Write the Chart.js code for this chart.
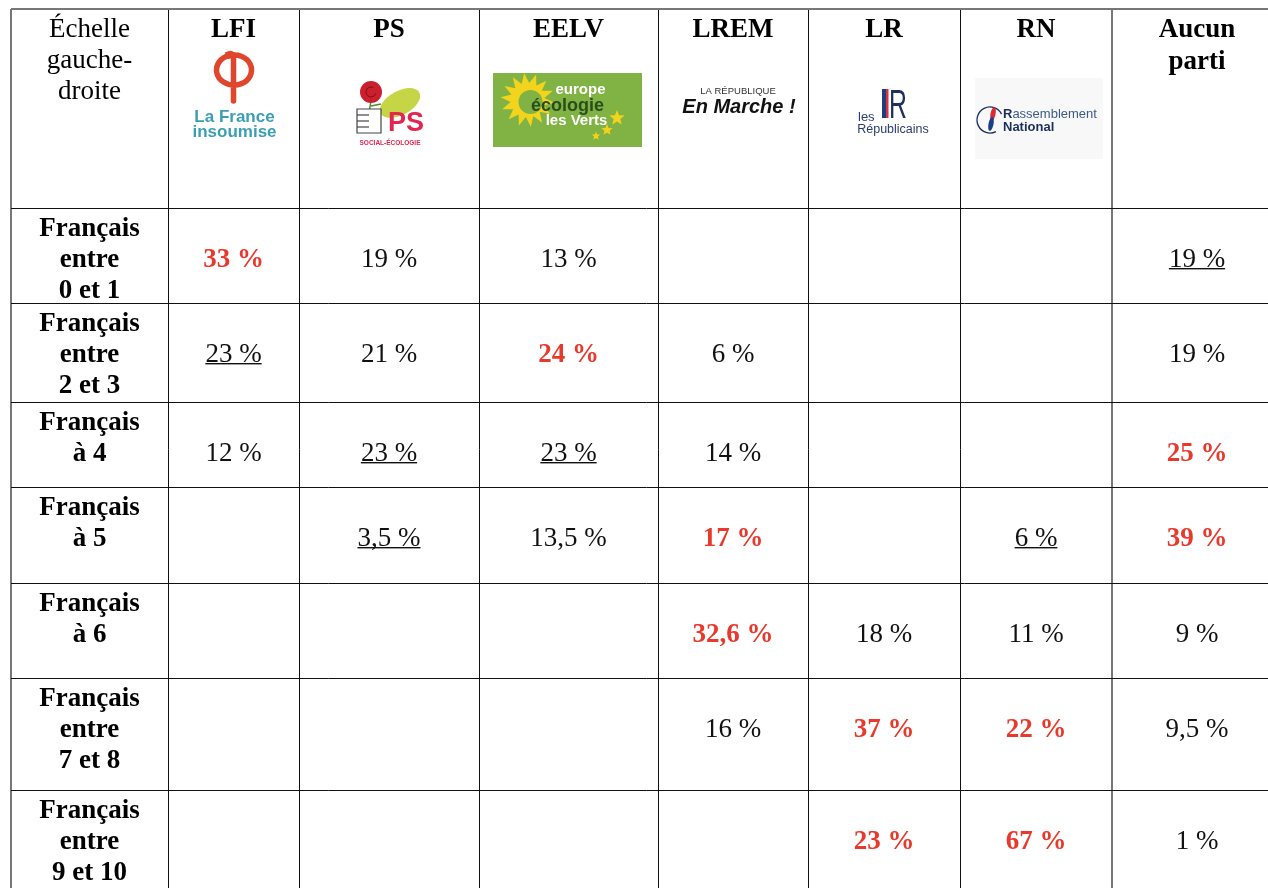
<!DOCTYPE html>
<html lang="fr">
<head>
<meta charset="utf-8">
<title>Échelle gauche-droite par parti</title>
<script src="https://cdn.jsdelivr.net/npm/chart.js@4.4.1/dist/chart.umd.min.js"></script>
<style>
  html, body { margin: 0; padding: 0; background: #fff; overflow: hidden; }
  canvas { display: block; }
</style>
</head>
<body>
<canvas id="table" width="1300" height="910"></canvas>
<script>
// --- données ---
const parties = ['LFI', 'PS', 'EELV', 'LREM', 'LR', 'RN', 'Aucun parti'];
const cornerLabel = ['Échelle', 'gauche-', 'droite'];
const rowLabels = [
    ['Français', 'entre', '0 et 1'],
    ['Français', 'entre', '2 et 3'],
    ['Français', 'à 4'],
    ['Français', 'à 5'],
    ['Français', 'à 6'],
    ['Français', 'entre', '7 et 8'],
    ['Français', 'entre', '9 et 10']
];

const lfi   = [33, 23, 12, null, null, null, null];
const ps    = [19, 21, 23, 3.5, null, null, null];
const eelv  = [13, 24, 23, 13.5, null, null, null];
const lrem  = [null, 6, 14, 17, 32.6, 16, null];
const lr    = [null, null, null, null, 18, 37, 23];
const rn    = [null, null, null, 6, 11, 22, 67];
const aucun = [19, 19, 25, 39, 9, 9.5, 1];

// r = rouge gras, u = souligné
const lfiMark   = ['r', 'u', '', '', '', '', ''];
const psMark    = ['', '', 'u', 'u', '', '', ''];
const eelvMark  = ['', 'r', 'u', '', '', '', ''];
const lremMark  = ['', '', '', 'r', 'r', '', ''];
const lrMark    = ['', '', '', '', '', 'r', 'r'];
const rnMark    = ['', '', '', 'u', '', 'r', 'r'];
const aucunMark = ['u', '', 'r', 'r', '', '', ''];

const series = [lfi, ps, eelv, lrem, lr, rn, aucun];
const marks = [lfiMark, psMark, eelvMark, lremMark, lrMark, rnMark, aucunMark];

// --- mise en page du tableau ---
const colWidths = [157, 131, 180, 179, 150, 152, 152, 170];
const rowHeights = [199, 95, 99, 85, 96, 95, 112, 100];
const cumul = arr => arr.reduce((acc, w) => { acc.push(acc[acc.length - 1] + w); return acc; }, [0]);
const xEdges = cumul(colWidths);
const yEdges = cumul(rowHeights);
const LINE = 31;       // interligne
const FIRST = 18;      // première ligne sous le bord de la cellule

const SERIF = '"Liberation Serif", "Times New Roman", serif';
const SANS = '"Liberation Sans", Arial, sans-serif';
const RED = '#e8392d';

const cells = [];
series.forEach((vals, c) => {
    vals.forEach((v, r) => {
        if (v === null) return;
        cells.push({
            x: (xEdges[c + 1] + xEdges[c + 2]) / 2,
            y: yEdges[r + 1] + FIRST + LINE,
            v,
            mark: marks[c][r]
        });
    });
});

const fmt = v => String(v).replace('.', ',') + ' %';

function textLine(ctx, txt, x, y, font, color, underline) {
    ctx.font = font;
    ctx.fillStyle = color;
    ctx.textAlign = 'center';
    ctx.textBaseline = 'alphabetic';
    ctx.fillText(txt, x, y + 9.5);
    if (underline) {
        const w = ctx.measureText(txt).width;
        ctx.fillRect(x - w / 2, y + 11, w, 1.4);
    }
}

function star(ctx, cx, cy, n, rOut, rIn, rot) {
    ctx.beginPath();
    for (let i = 0; i < n * 2; i++) {
        const r = i % 2 ? rIn : rOut;
        const a = rot + i * Math.PI / n;
        ctx.lineTo(cx + r * Math.cos(a), cy + r * Math.sin(a));
    }
    ctx.closePath();
    ctx.fill();
}

const logos = {
    LFI(ctx, cx, top) {
        ctx.strokeStyle = '#e0462c';
        ctx.lineWidth = 5.5;
        ctx.lineCap = 'round';
        // tige + crochet + demi-boucle gauche
        ctx.beginPath();
        ctx.moveTo(cx, top + 92);
        ctx.lineTo(cx, top + 50);
        ctx.quadraticCurveTo(cx, top + 43, cx - 5, top + 45);
        ctx.ellipse(cx, top + 61, 17, 15, 0, -0.58 * Math.PI, 0.5 * Math.PI, true);
        ctx.stroke();
        // demi-boucle droite
        ctx.beginPath();
        ctx.ellipse(cx + 1, top + 61, 17, 15, 0, -0.62 * Math.PI, 0.5 * Math.PI, false);
        ctx.stroke();
        ctx.textAlign = 'center';
        ctx.textBaseline = 'middle';
        ctx.fillStyle = '#3a9fb4';
        ctx.font = 'bold 17px ' + SANS;
        ctx.fillText('La France', cx + 1, top + 108);
        ctx.fillText('insoumise', cx + 1, top + 123);
    },
    PS(ctx, cx, top) {
        ctx.save();
        ctx.fillStyle = '#c6d545';
        ctx.beginPath();
        ctx.ellipse(cx + 11, top + 94, 22, 12, -0.5, 0, Math.PI * 2);
        ctx.fill();
        ctx.restore();
        ctx.strokeStyle = '#4f8a2e';
        ctx.lineWidth = 1.5;
        ctx.beginPath();
        ctx.moveTo(cx - 18, top + 92);
        ctx.lineTo(cx - 20, top + 104);
        ctx.moveTo(cx - 18, top + 97);
        ctx.lineTo(cx - 8, top + 95);
        ctx.stroke();
        ctx.fillStyle = '#cc1f2e';
        ctx.beginPath();
        ctx.arc(cx - 18, top + 83, 11, 0, Math.PI * 2);
        ctx.fill();
        ctx.strokeStyle = '#7a0f18';
        ctx.lineWidth = 1;
        ctx.beginPath();
        ctx.arc(cx - 18, top + 83, 5, 0.3, 5.2);
        ctx.stroke();
        ctx.fillStyle = '#fff';
        ctx.strokeStyle = '#444';
        ctx.lineWidth = 1.2;
        ctx.beginPath();
        ctx.rect(cx - 32, top + 100, 24, 24);
        ctx.fill();
        ctx.stroke();
        for (let i = 1; i < 4; i++) {
            ctx.beginPath();
            ctx.moveTo(cx - 32, top + 100 + i * 6);
            ctx.lineTo(cx - 20, top + 100 + i * 6);
            ctx.stroke();
        }
        ctx.textAlign = 'center';
        ctx.textBaseline = 'middle';
        ctx.fillStyle = '#e2264f';
        ctx.font = 'bold 27px ' + SANS;
        ctx.fillText('PS', cx + 17, top + 115);
        ctx.font = 'bold 6.5px ' + SANS;
        ctx.fillText('SOCIAL-ÉCOLOGIE', cx + 1, top + 134);
    },
    EELV(ctx, cx, top) {
        ctx.fillStyle = '#80b343';
        ctx.fillRect(cx - 75.5, top + 64, 149, 74);
        ctx.fillStyle = '#f3d41d';
        star(ctx, cx - 41, top + 91, 14, 27, 17, 0.1);
        ctx.fillStyle = '#80b343';
        ctx.beginPath();
        ctx.arc(cx - 38, top + 93, 12, 0, Math.PI * 2);
        ctx.fill();
        ctx.fillStyle = '#f3d41d';
        star(ctx, cx + 48.5, top + 109, 5, 8, 3.5, -Math.PI / 2);
        star(ctx, cx + 38.5, top + 121, 5, 6, 2.6, -Math.PI / 2);
        star(ctx, cx + 27.5, top + 127, 5, 4.5, 2, -Math.PI / 2);
        ctx.textAlign = 'center';
        ctx.textBaseline = 'middle';
        ctx.fillStyle = '#fff';
        ctx.font = 'bold 15px ' + SANS;
        ctx.fillText('europe', cx + 12, top + 81);
        ctx.fillStyle = '#2b4d1d';
        ctx.font = 'bold 18px ' + SANS;
        ctx.fillText('écologie', cx - 1, top + 97);
        ctx.fillStyle = '#fff';
        ctx.font = 'bold 15px ' + SANS;
        ctx.fillText('les Verts', cx + 8, top + 112);
    },
    LREM(ctx, cx, top) {
        ctx.textAlign = 'center';
        ctx.textBaseline = 'middle';
        ctx.fillStyle = '#333';
        ctx.font = '9.5px ' + SANS;
        ctx.fillText('LA RÉPUBLIQUE', cx + 5, top + 82);
        ctx.fillStyle = '#111';
        ctx.font = 'italic bold 20px ' + SANS;
        ctx.fillText('En Marche !', cx + 6, top + 98);
    },
    LR(ctx, cx, top) {
        ctx.fillStyle = '#1f3b82';
        ctx.fillRect(cx - 2, top + 80, 4, 29);
        ctx.fillStyle = '#d8323c';
        ctx.fillRect(cx + 2, top + 80, 2.5, 29);
        ctx.save();
        ctx.translate(cx + 5, top + 109);
        ctx.scale(0.62, 1);
        ctx.fillStyle = '#1f2f5e';
        ctx.font = '40px ' + SANS;
        ctx.textAlign = 'left';
        ctx.textBaseline = 'alphabetic';
        ctx.fillText('R', 0, 0);
        ctx.restore();
        ctx.fillStyle = '#2a3d6e';
        ctx.font = '13px ' + SANS;
        ctx.textAlign = 'left';
        ctx.textBaseline = 'middle';
        ctx.fillText('les', cx - 26, top + 108);
        ctx.textAlign = 'center';
        ctx.font = '12.5px ' + SANS;
        ctx.fillText('Républicains', cx + 9, top + 121);
    },
    RN(ctx, cx, top) {
        ctx.fillStyle = '#f8f8f8';
        ctx.fillRect(cx - 61, top + 69, 128, 81);
        ctx.strokeStyle = '#1b2e5c';
        ctx.lineWidth = 1.3;
        ctx.beginPath();
        ctx.arc(cx - 46, top + 111, 13, 0.35 * Math.PI, 1.85 * Math.PI);
        ctx.stroke();
        ctx.fillStyle = '#d72b35';
        ctx.beginPath();
        ctx.ellipse(cx - 43, top + 105, 2.5, 7, 0.2, 0, Math.PI * 2);
        ctx.fill();
        ctx.fillStyle = '#1b3d8f';
        ctx.beginPath();
        ctx.ellipse(cx - 45, top + 115, 2.5, 7, 0.2, 0, Math.PI * 2);
        ctx.fill();
        ctx.textAlign = 'left';
        ctx.textBaseline = 'middle';
        ctx.fillStyle = '#1b2e5c';
        ctx.font = 'bold 13px ' + SANS;
        ctx.fillText('R', cx - 33, top + 105);
        const rw = ctx.measureText('R').width;
        ctx.fillStyle = '#3b5b8c';
        ctx.font = '13px ' + SANS;
        ctx.fillText('assemblement', cx - 33 + rw, top + 105);
        ctx.fillStyle = '#1b2e5c';
        ctx.font = 'bold 13px ' + SANS;
        ctx.fillText('National', cx - 33, top + 118);
    }
};

const tableText = {
    id: 'tableText',
    afterDatasetsDraw(chart) {
        const { ctx, scales: { x, y } } = chart;
        ctx.save();
        const top = y.getPixelForValue(0);
        const colCenter = c => (x.getPixelForValue(xEdges[c]) + x.getPixelForValue(xEdges[c + 1])) / 2;

        // coin
        cornerLabel.forEach((t, i) => textLine(ctx, t, colCenter(0), top + FIRST + i * LINE, '27px ' + SERIF, '#000'));

        // en-têtes des partis + logos
        parties.forEach((p, i) => {
            const cx = colCenter(i + 1);
            p.split(' ').forEach((t, k) => textLine(ctx, t, cx, top + FIRST + k * (LINE + 1), 'bold 27px ' + SERIF, '#000'));
            if (logos[p]) {
                ctx.save();
                logos[p](ctx, cx, top);
                ctx.restore();
            }
        });

        // libellés des lignes
        rowLabels.forEach((lines, r) => {
            const rt = y.getPixelForValue(yEdges[r + 1]);
            lines.forEach((t, k) => textLine(ctx, t, colCenter(0), rt + FIRST + k * LINE, 'bold 27px ' + SERIF, '#000'));
        });

        // valeurs
        const meta = chart.getDatasetMeta(0);
        meta.data.forEach((el, i) => {
            const cell = cells[i];
            const red = cell.mark === 'r';
            textLine(ctx, fmt(cell.v), el.x, el.y,
                (red ? 'bold ' : '') + '27px ' + SERIF,
                red ? RED : '#111',
                cell.mark === 'u');
        });
        ctx.restore();
    }
};

const edgeGrid = heavy => ({
    color: c => heavy.includes(c.index) ? '#777' : '#111',
    lineWidth: c => heavy.includes(c.index) ? 2 : 1,
    drawTicks: false
});

new Chart(document.getElementById('table'), {
    type: 'scatter',
    data: {
        datasets: [{
            data: cells,
            pointRadius: 0,
            pointHoverRadius: 0
        }]
    },
    options: {
        responsive: false,
        animation: false,
        events: [],
        layout: { padding: { left: 11, top: 9, right: 18, bottom: 20 } },
        plugins: {
            legend: { display: false },
            tooltip: { enabled: false }
        },
        scales: {
            x: {
                type: 'linear',
                min: 0,
                max: xEdges[xEdges.length - 1],
                ticks: { display: false },
                border: { display: false },
                grid: edgeGrid([0, 7]),
                afterBuildTicks: s => { s.ticks = xEdges.map(v => ({ value: v })); },
                afterFit: s => { s.height = 0; }
            },
            y: {
                type: 'linear',
                reverse: true,
                min: 0,
                max: yEdges[yEdges.length - 1],
                ticks: { display: false },
                border: { display: false },
                grid: edgeGrid([0]),
                afterBuildTicks: s => { s.ticks = yEdges.map(v => ({ value: v })); },
                afterFit: s => { s.width = 0; }
            }
        }
    },
    plugins: [tableText]
});
</script>
</body>
</html>
